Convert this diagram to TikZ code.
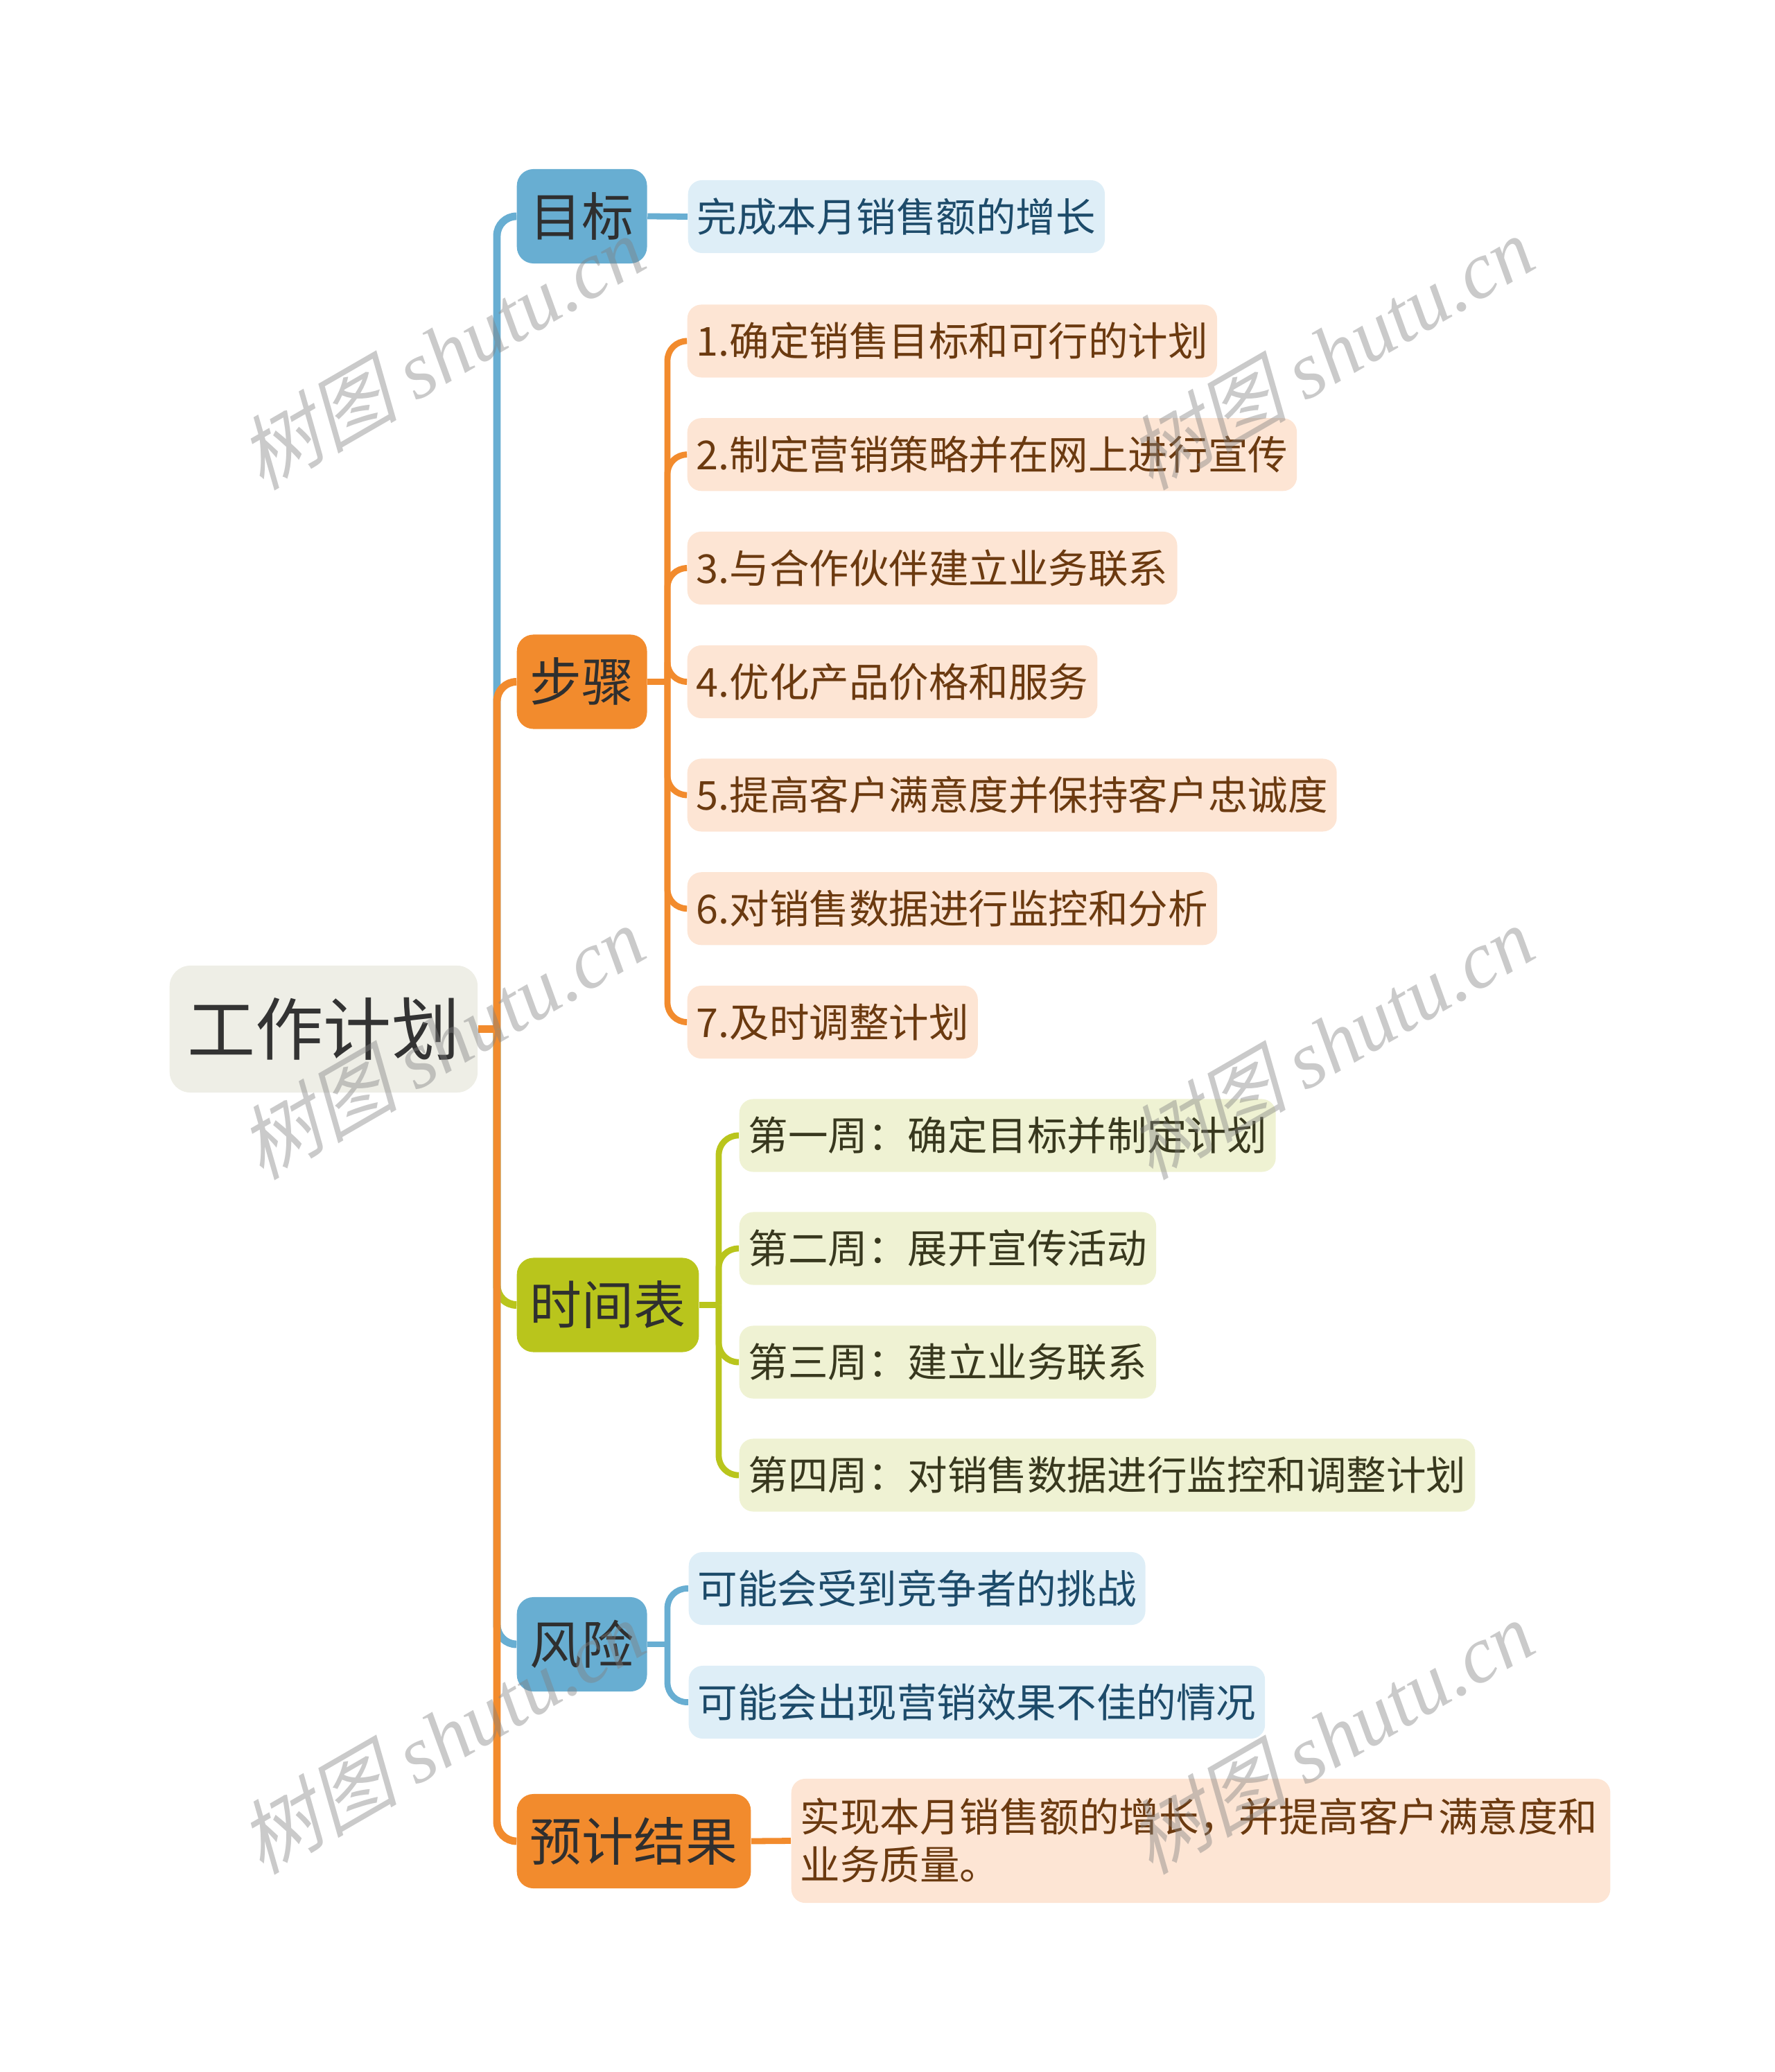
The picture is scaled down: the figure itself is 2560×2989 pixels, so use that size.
\documentclass[tikz,border=0pt]{standalone}
\usepackage{fontspec}
\setmainfont{Noto Sans CJK SC}
\newfontfamily\wmcjk{Noto Sans CJK SC}[FakeSlant=0.25]
\newfontfamily\wmlat{Liberation Serif}
\usetikzlibrary{backgrounds}
\definecolor{rootfill}{HTML}{EEEEE6}
\definecolor{roottext}{HTML}{333333}
\definecolor{cblue}{HTML}{68AED2}
\definecolor{corange}{HTML}{F28B2D}
\definecolor{cgreen}{HTML}{B9C51C}
\definecolor{lblue}{HTML}{DEEEF7}
\definecolor{lorange}{HTML}{FDE5D4}
\definecolor{lgreen}{HTML}{EFF2D3}
\definecolor{tblue}{HTML}{1D4B6A}
\definecolor{torange}{HTML}{6B3A10}
\definecolor{tgreen}{HTML}{38381E}
\definecolor{tdark}{HTML}{2F2F2F}
\newcommand\cstrut{\rule[-2pt]{0pt}{16.36pt}}
\tikzset{
  rootbox/.style={anchor=west, rounded corners=8.5pt, fill=rootfill, text=roottext,
    font=\fontsize{27.9pt}{33pt}\selectfont, inner xsep=0.26cm, inner ysep=0pt,
    minimum height=1.83cm, text height=24.5pt, text depth=3.4pt},
  mainbox/.style={anchor=west, rounded corners=6.8pt, fill=#1, text=tdark,
    font=\fontsize{21.3pt}{25pt}\selectfont, inner xsep=0.19cm, inner ysep=0pt,
    minimum height=1.36cm, text height=18.7pt, text depth=2.6pt},
  subbox/.style 2 args={anchor=west, rounded corners=5.7pt, fill=#1, text=#2,
    font=\fontsize{16.36pt}{19.6pt}\selectfont, inner xsep=0.13cm, inner ysep=0pt,
    minimum height=1.05cm, text height=14.4pt, text depth=2pt},
  widebox/.style={anchor=west, rounded corners=5.7pt, fill=lorange, text=torange,
    font=\fontsize{16.36pt}{19.6pt}\selectfont, inner xsep=0.13cm, inner ysep=0pt,
    minimum height=1.79cm, text width=11.55cm, align=left},
  conna/.style={line width=3.1pt, rounded corners=8pt, draw=#1},
  connb/.style={line width=2.5pt, rounded corners=8pt, draw=#1},
  wm/.style={rotate=30, text=gray, opacity=0.42, font=\fontsize{33pt}{40pt}\selectfont}
}
\begin{document}
\begin{tikzpicture}[x=0.01cm, y=-0.01cm]
\useasboundingbox (0,0) rectangle (2560,2989);

% root
\node[rootbox] (root) at (244,1484.5) {工作计划};
\coordinate (hub) at (717,1484.5);

% level 1
\node[mainbox=cblue]   (goal)   at (745,312)    {目标};
\node[mainbox=corange] (steps)  at (745,983.5)  {步骤};
\node[mainbox=cgreen]  (time)   at (745,1882.5) {时间表};
\node[mainbox=cblue]   (risk)   at (745,2372)   {风险};
\node[mainbox=corange] (result) at (745,2656)   {预计结果};

% goal child
\node[subbox={lblue}{tblue}] (g1) at (992,312.5) {完成本月销售额的增长};

% steps children
\node[subbox={lorange}{torange}] (s1) at (991,492)    {1.确定销售目标和可行的计划};
\node[subbox={lorange}{torange}] (s2) at (991,655.75) {2.制定营销策略并在网上进行宣传};
\node[subbox={lorange}{torange}] (s3) at (991,819.5)  {3.与合作伙伴建立业务联系};
\node[subbox={lorange}{torange}] (s4) at (991,983.5)  {4.优化产品价格和服务};
\node[subbox={lorange}{torange}] (s5) at (991,1147)   {5.提高客户满意度并保持客户忠诚度};
\node[subbox={lorange}{torange}] (s6) at (991,1310.75){6.对销售数据进行监控和分析};
\node[subbox={lorange}{torange}] (s7) at (991,1474.5) {7.及时调整计划};
\coordinate (sbus) at (963,983.5);

% timeline children
\node[subbox={lgreen}{tgreen}] (w1) at (1066,1638) {第一周：确定目标并制定计划};
\node[subbox={lgreen}{tgreen}] (w2) at (1066,1801) {第二周：展开宣传活动};
\node[subbox={lgreen}{tgreen}] (w3) at (1066,1965) {第三周：建立业务联系};
\node[subbox={lgreen}{tgreen}] (w4) at (1066,2128) {第四周：对销售数据进行监控和调整计划};
\coordinate (tbus) at (1037,1882.5);

% risk children
\node[subbox={lblue}{tblue}] (r1) at (993,2291.5) {可能会受到竞争者的挑战};
\node[subbox={lblue}{tblue}] (r2) at (993,2455.5) {可能会出现营销效果不佳的情况};
\coordinate (rbus) at (963,2372);

% result child
\node[widebox] (res1) at (1141,2655.5) {\cstrut 实现本月销售额的增长，并提高客户满意度和\\\cstrut 业务质量。};

\begin{scope}[on background layer]
  % level-1 connectors
  \draw[conna=cblue]   (hub) |- (goal.west);
  \draw[conna=corange] (hub) |- (steps.west);
  \draw[conna=cgreen]  (hub) |- (time.west);
  \draw[conna=cblue]   (hub) |- (risk.west);
  \draw[conna=corange] (hub) |- (result.west);
  \draw[conna=corange] (root.east) -- (hub);
  % goal
  \draw[connb=cblue] (goal.east) -- (g1.west);
  % steps
  \draw[connb=corange] (steps.east) -- (sbus);
  \foreach \i in {1,...,7} { \draw[connb=corange] (sbus) |- (s\i.west); }
  % timeline
  \draw[connb=cgreen] (time.east) -- (tbus);
  \foreach \i in {1,...,4} { \draw[connb=cgreen] (tbus) |- (w\i.west); }
  % risk
  \draw[connb=cblue] (risk.east) -- (rbus);
  \draw[connb=cblue] (rbus) |- (r1.west);
  \draw[connb=cblue] (rbus) |- (r2.west);
  % result
  \draw[connb=corange] (result.east) -- (res1.west);
\end{scope}

% watermarks
\node[wm] (wm1) at (636,508)   {{\wmcjk 树图} {\wmlat\itshape shutu.cn}};
\node[wm] (wm2) at (1919,508)  {{\wmcjk 树图} {\wmlat\itshape shutu.cn}};
\node[wm] (wm3) at (636,1503)  {{\wmcjk 树图} {\wmlat\itshape shutu.cn}};
\node[wm] (wm4) at (1919,1503) {{\wmcjk 树图} {\wmlat\itshape shutu.cn}};
\node[wm] (wm5) at (636,2505)  {{\wmcjk 树图} {\wmlat\itshape shutu.cn}};
\node[wm] (wm6) at (1919,2505) {{\wmcjk 树图} {\wmlat\itshape shutu.cn}};
\end{tikzpicture}
\end{document}
